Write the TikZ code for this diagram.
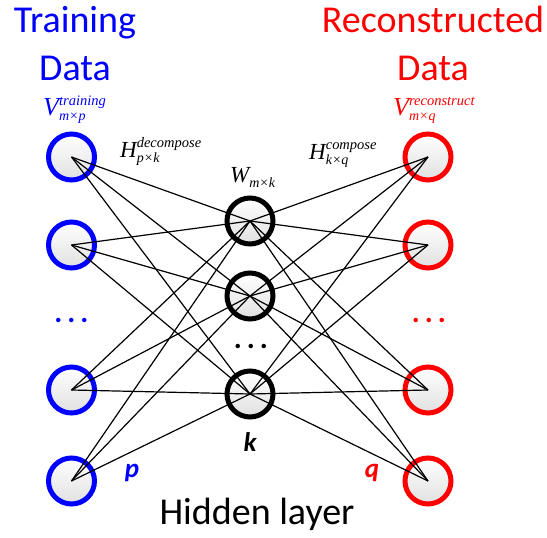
\documentclass[tikz,border=0pt]{standalone}
\usepackage{fontspec}
\newfontfamily\lblfont{Carlito}
\newfontfamily\varfont{Liberation Serif}
% V^{sup}_{sub} built from text boxes
\newcommand{\nmfvar}[3]{#1\raisebox{-5.5pt}{\fontsize{14.5}{15.5}\selectfont\begin{tabular}[b]{@{}l@{}}#2\\{\fontsize{14}{14}\selectfont #3}\end{tabular}}}

\tikzset{
  unit/.style={circle, minimum size=46pt, inner sep=0pt, line width=5pt,
    top color=white, bottom color=black!12},
  inunit/.style={unit, draw=blue},
  hidunit/.style={unit, draw=black},
  outunit/.style={unit, draw=red},
  wire/.style={line width=1.2pt},
  title/.style={font=\lblfont\fontsize{38}{48}\selectfont, align=center, inner sep=0pt, anchor=base},
  var/.style={font=\varfont\itshape\fontsize{23}{23}\selectfont, inner sep=0pt, anchor=base west},
  bigvar/.style={var, font=\varfont\itshape\fontsize{26}{26}\selectfont},
  count/.style={font=\lblfont\bfseries\itshape\fontsize{27}{27}\selectfont, inner sep=0pt, anchor=base},
  dots/.style={font=\lblfont\bfseries\fontsize{30}{30}\selectfont, inner sep=0pt}
}

\begin{document}
\begin{tikzpicture}[x=1pt,y=-1pt]
  \useasboundingbox (0,0) rectangle (547,538);

  % titles
  \node[title, blue] (trn) at (75,80) {Training\\Data};
  \node[title, red] (rec) at (433,80) {Reconstructed\\Data};
  \node[title] (hid) at (257,524) {Hidden layer};

  % units
  \node[inunit] (i1) at (71.5,157) {};
  \node[inunit] (i2) at (71.5,245) {};
  \node[inunit] (i3) at (71.5,390) {};
  \node[inunit] (i4) at (71.5,481) {};
  \node[hidunit] (h1) at (250,221) {};
  \node[hidunit] (h2) at (250,296) {};
  \node[hidunit] (h3) at (250,394) {};
  \node[outunit] (o1) at (428,157) {};
  \node[outunit] (o2) at (428,245) {};
  \node[outunit] (o3) at (428,390) {};
  \node[outunit] (o4) at (428,481) {};

  % connections
  \foreach \a in {1,...,4}
    \foreach \b in {1,2,3}
      \draw[wire] (i\a.center) -- (h\b.center);
  \foreach \b in {1,2,3}
    \foreach \a in {1,...,4}
      \draw[wire] (h\b.center) -- (o\a.center);

  % dots
  \node[dots, blue] (idots) at (71.5,320) {.\kern5pt.\kern5pt.};
  \node[dots] (hdots) at (251,346) {.\kern5pt.\kern5pt.};
  \node[dots, red] (odots) at (429,320) {.\kern5pt.\kern5pt.};

  % matrices
  \node[bigvar, blue] (vtr) at (43,115) {\nmfvar{V}{training}{m×p}};
  \node[bigvar, red] (vrc) at (393,115) {\nmfvar{V}{reconstruct}{m×q}};
  \node[var] (hdc) at (120,157) {\nmfvar{H}{decompose}{p×k}};
  \node[var] (hcp) at (309,159) {\nmfvar{H}{compose}{k×q}};
  \node[var] (wmk) at (230,182) {\nmfvar{W}{}{m×k}};

  % sizes
  \node[count, blue] (np) at (132,477) {p};
  \node[count] (nk) at (250,451) {k};
  \node[count, red] (nq) at (372,477) {q};
\end{tikzpicture}
\end{document}
